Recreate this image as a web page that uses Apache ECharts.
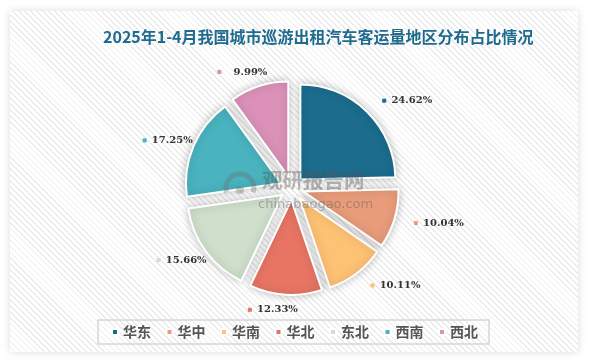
<!DOCTYPE html>
<html><head><meta charset="utf-8">
<script src="https://cdn.jsdelivr.net/npm/echarts@6/dist/echarts.min.js"></script>
<style>
html,body{margin:0;padding:0;background:#fff;}
#card{position:absolute;left:10px;top:11px;width:568px;height:341px;box-shadow:0 0 8px rgba(0,0,0,0.14);
background:repeating-linear-gradient(45deg,#ffffff 0px,#ffffff 3px,#ebebeb 3px,#ebebeb 4.2px);}
#main{position:absolute;left:0;top:0;width:589px;height:362px;}
</style></head>
<body><div id="card"></div><div id="main"></div>
<script>
const titleText = '2025年1-4月我国城市巡游出租汽车客运量地区分布占比情况';
const categories = ['华东','华中','华南','华北','东北','西南','西北'];
const values = [24.62, 10.04, 10.11, 12.33, 15.66, 17.25, 9.99];
const colors = ['#1b6c8d','#e99c7a','#fec274','#e87564','#cfdfcb','#49b3bf','#dc91b8'];

const rich = { t: { fontFamily: 'DejaVu Serif', fontWeight: 'bold', fontSize: 10, color: '#333', width: 38, align: 'right', padding:[0,0,0,8] } };
colors.forEach((c, i) => { rich['s' + i] = { width: 4, height: 4, backgroundColor: c }; });

const cx = 292, cy = 188;
const chart = echarts.init(document.getElementById('main'), null, { renderer: 'canvas' });
chart.setOption({
  animation: false,
  backgroundColor: 'transparent',
  color: colors,
  title: {
    text: titleText, left: 98, top: 24,
    textStyle: { fontFamily: 'Noto Sans CJK SC', fontWeight: 'bold', fontSize: 16, color: '#1f6b8f' }
  },
  legend: {
    data: categories, bottom: 18, left: 'center',
    itemWidth: 6, itemHeight: 6, itemGap: 14.5, icon: 'rect',
    borderColor: '#d6d6d6', borderWidth: 1.5, padding: [5, 11, 5, 13],
    selectedMode: false,
    textStyle: { fontFamily: 'Noto Sans CJK SC', fontWeight: 'bold', fontSize: 14, color: '#555' }
  },
  graphic: [
    { type: 'text', left: 262, top: 170, silent: true, z: 100,
      style: { text: '观研报告网', fontFamily: 'Noto Sans CJK SC', fontWeight: 'bold', fontSize: 20.5, fill: 'rgba(90,90,90,0.42)' } },
    { type: 'text', left: 258, top: 198, silent: true, z: 100,
      style: { text: 'chinabaogao.com', fontFamily: 'DejaVu Sans', fontSize: 13, fill: 'rgba(90,90,90,0.42)' } },
    { type: 'arc', shape: { cx: 240, cy: 188, r: 14, startAngle: Math.PI * 0.9, endAngle: Math.PI * 2.1 }, silent: true, z: 100,
      style: { stroke: 'rgba(110,110,110,0.35)', lineWidth: 5, fill: null } },
    { type: 'circle', shape: { cx: 240, cy: 190, r: 4 }, silent: true, z: 100,
      style: { fill: 'rgba(110,110,110,0.35)' } }
  ],
  series: [{
    type: 'pie',
    center: [cx, cy],
    radius: [0, 95],
    startAngle: 90,
    clockwise: true,
    selectedMode: 'multiple',
    selectedOffset: 12,
    emphasis: { disabled: true },
    itemStyle: { borderColor: '#fff', borderWidth: 2, shadowBlur: 8, shadowColor: 'rgba(0,0,0,0.25)' },
    select: { itemStyle: { borderColor: '#fff', borderWidth: 2 } },
    label: {
      show: true, position: 'outside',
      formatter: p => '{s' + p.dataIndex + '|}{t|' + p.value.toFixed(2) + '%}',
      rich: rich
    },
    labelLine: { show: false, length: 15, length2: 0 },
    labelLayout: p => (p.labelRect.x + p.labelRect.width / 2 < cx ? { dx: 18 } : {}),
    data: categories.map((n, i) => ({ name: n, value: values[i], selected: true }))
  }]
});
</script></body></html>
